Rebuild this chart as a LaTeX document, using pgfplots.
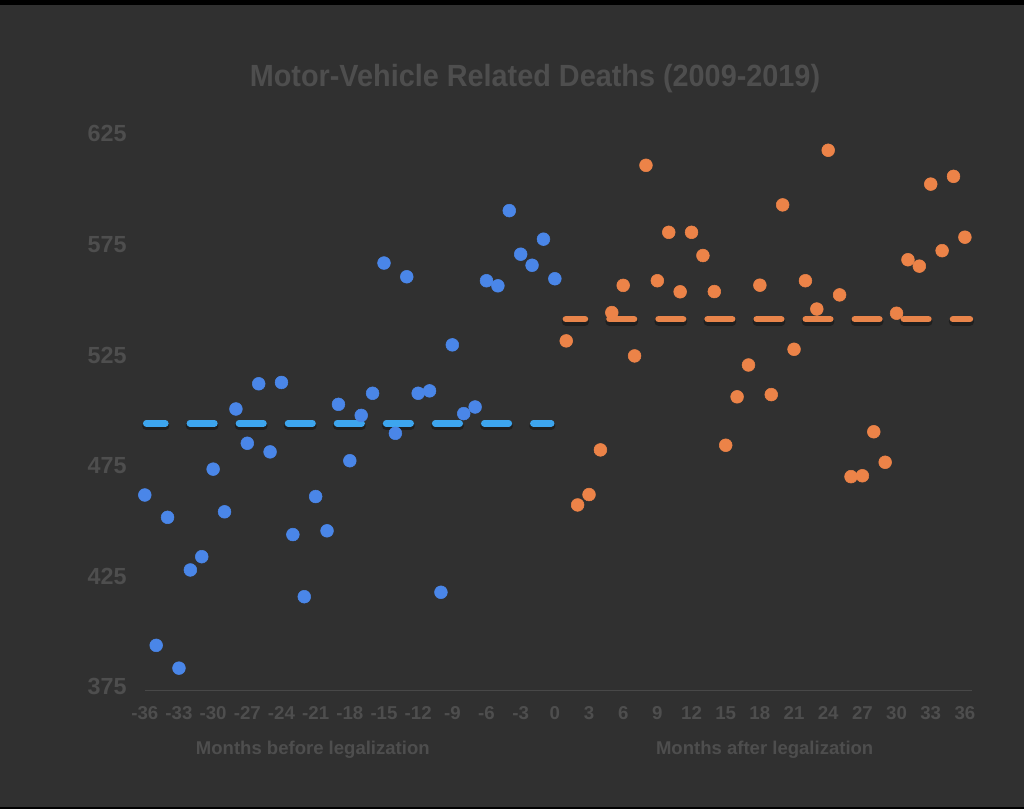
\documentclass[border=0pt]{standalone}
\usepackage{fontspec}
\setmainfont{Liberation Sans}
\newfontfamily\titlefont[FakeStretch=0.94]{Liberation Sans}
\usepackage{pgfplots}
\pgfplotsset{compat=1.18}
\definecolor{bgc}{HTML}{303030}
\definecolor{txtc}{HTML}{4E4E4E}
\definecolor{axc}{HTML}{484848}
\definecolor{bdot}{HTML}{4A86E8}
\definecolor{bdash}{HTML}{3DA5EE}
\definecolor{odot}{HTML}{EC8348}
\definecolor{odash}{HTML}{E8844A}
\begin{document}
\begin{tikzpicture}
\fill[bgc] (0,0) rectangle (768pt,606.75pt);
\fill[black] (0,603pt) rectangle (768pt,606.75pt);
\fill[black] (0,0) rectangle (768pt,1.8pt);
\node[anchor=base, text=txtc, inner sep=0pt, font=\titlefont\bfseries\fontsize{23}{23}\selectfont] at (401.25pt,541.7pt) {Motor-Vehicle Related Deaths (2009-2019)};
\node[anchor=base, text=txtc, inner sep=0pt, font=\bfseries\fontsize{13.9}{14}\selectfont] at (234.6pt,41pt) {Months before legalization};
\node[anchor=base, text=txtc, inner sep=0pt, font=\bfseries\fontsize{13.9}{14}\selectfont] at (573.5pt,41pt) {Months after legalization};
\begin{axis}[
  at={(108.6pt,88.5pt)}, anchor=south west,
  scale only axis, width=620.2pt, height=426.1pt,
  xmin=-36, xmax=36.6, ymin=373.06, ymax=630,
  axis x line=bottom, axis y line=left, axis line style={-},
  x axis line style={draw=axc, line width=0.75pt},
  y axis line style={draw=none},
  major tick length=0pt, tick style={draw=none},
  xtick={-36,-33,...,36},
  xticklabels={-36,-33,-30,-27,-24,-21,-18,-15,-12,-9,-6,-3,0,3,6,9,12,15,18,21,24,27,30,33,36},
  ytick={375,425,475,525,575,625},
  yticklabels={375,425,475,525,575,625},
  xticklabel style={anchor=base, yshift=-21.75pt, inner sep=0pt, text=txtc, font=\bfseries\fontsize{14}{14}\selectfont},
  yticklabel style={anchor=east, xshift=-13.4pt, inner sep=0pt, text=txtc, font=\bfseries\fontsize{17.5}{17.5}\selectfont},
  clip=false,
]
\addplot[only marks, mark=*, color=bdot, mark size=4.8pt, mark options={draw=bdot, fill=bdot, line width=0.4pt}] coordinates {
(-36,461.7) (-35,393.7) (-34,451.6) (-33,383.4) (-32,427.8) (-31,433.8) (-30,473.4) (-29,454.1)
(-28,500.6) (-27,485.1) (-26,512.0) (-25,481.2) (-24,512.6) (-23,443.8) (-22,415.7) (-21,461.0)
(-20,445.5) (-19,502.7) (-18,477.2) (-17,497.7) (-16,507.7) (-15,566.6) (-14,489.6) (-13,560.4)
(-12,507.7) (-11,508.8) (-10,417.7) (-9,529.6) (-8,498.5) (-7,501.5) (-6,558.6) (-5,556.3)
(-4,590.3) (-3,570.6) (-2,565.6) (-1,577.4) (0,559.5)
};
\addplot[only marks, mark=*, color=odot, mark size=4.8pt, mark options={draw=odot, fill=odot, line width=0.4pt}] coordinates {
(1,531.4) (2,457.2) (3,461.9) (4,482.1) (5,544.2) (6,556.5) (7,524.6) (8,610.8)
(9,558.6) (10,580.5) (11,553.6) (12,580.5) (13,570.0) (14,553.7) (15,484.2) (16,506.1)
(17,520.5) (18,556.6) (19,507.1) (20,592.9) (21,527.6) (22,558.6) (23,545.8) (24,617.6)
(25,552.2) (26,470.0) (27,470.4) (28,490.3) (29,476.5) (30,543.9) (31,568.1) (32,565.2)
(33,602.3) (34,572.2) (35,605.8) (36,578.3)
};
% shadows of mean lines
\addplot[black, opacity=0.35, line width=6.2pt, line cap=round, dash pattern=on 18.4pt off 18.4pt, dash phase=4.1pt, yshift=-1.8pt] coordinates {(-35.87,494.1) (-0.32,494.1)};
\addplot[black, opacity=0.35, line width=6.2pt, line cap=round, dash pattern=on 18.4pt off 18.4pt, dash phase=4.1pt, yshift=-1.8pt] coordinates {(0.97,541.2) (36.44,541.2)};
% mean lines
\addplot[bdash, line width=4.9pt, line cap=round, dash pattern=on 18.4pt off 18.4pt, dash phase=4.1pt] coordinates {(-35.87,494.1) (-0.32,494.1)};
\addplot[odash, line width=4.9pt, line cap=round, dash pattern=on 18.4pt off 18.4pt, dash phase=4.1pt] coordinates {(0.97,541.2) (36.44,541.2)};
\end{axis}
\pgfresetboundingbox
\useasboundingbox (0,0) rectangle (768pt,606.75pt);
\end{tikzpicture}
\end{document}
